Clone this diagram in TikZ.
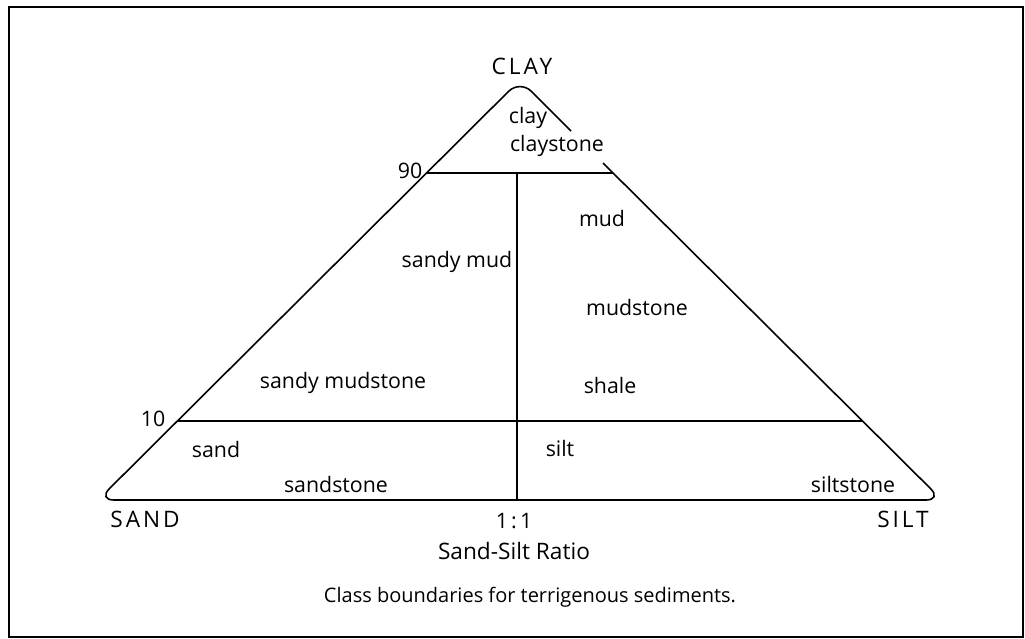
\documentclass[tikz,border=0pt]{standalone}
\usepackage{fontspec}
\setmainfont{Open Sans}
\begin{document}
\begin{tikzpicture}[x=0.75pt,y=-0.75pt,
  lbl/.style={inner sep=0pt,font=\fontsize{16}{19}\selectfont},
  capslbl/.style={inner sep=0pt,font=\fontsize{17}{20}\selectfont\addfontfeature{LetterSpace=13}},
  captext/.style={inner sep=0pt,font=\fontsize{15}{18}\selectfont},
  edgeline/.style={line width=1.2pt,line join=round},
  thinline/.style={line width=0.9pt}]
\useasboundingbox (0,0) rectangle (1025,639);
\draw[line width=1.5pt] (9,7) rectangle (1023,637);
% corners and boundary points
\coordinate (apex) at (520,80);
\coordinate (sandc) at (98,500);
\coordinate (siltc) at (942,500);
\coordinate (gapA) at (571,131);
\coordinate (gapB) at (603,163);
\draw[edgeline,rounded corners=12pt] (gapA) -- (apex) -- (sandc) -- (siltc) -- (gapB);
\coordinate (n90L) at (427,173);
\coordinate (n90R) at (613,173);
\coordinate (n10L) at (178,421);
\coordinate (n10R) at (862,421);
\coordinate (vTop) at (517,173);
\coordinate (vBot) at (517,500);
\draw[edgeline] (n90L) -- (n90R);
\draw[edgeline] (n10L) -- (n10R);
\draw[thinline] (vTop) -- (vBot);
% labels
\node[capslbl] (CLAY) at (522,66) {CLAY};
\node[lbl] (clay) at (528,118) {clay};
\node[lbl] (claystone) at (557,146) {claystone};
\node[lbl] (l90) at (410,171) {90};
\node[lbl] (mud) at (602,218) {mud};
\node[lbl] (sandymud) at (457,262) {sandy mud};
\node[lbl] (mudstone) at (637,307) {mudstone};
\node[lbl] (sandymudstone) at (343,383) {sandy mudstone};
\node[lbl] (shale) at (610,385) {shale};
\node[lbl] (l10) at (153,419) {10};
\node[lbl] (sand) at (216,449) {sand};
\node[lbl] (silt) at (560,448) {silt};
\node[lbl] (sandstone) at (336,484) {sandstone};
\node[lbl] (siltstone) at (853,484) {siltstone};
\node[capslbl] (SAND) at (145,519) {SAND};
\node[lbl,font=\fontsize{16}{19}\selectfont\addfontfeature{LetterSpace=15}] (ratio11) at (514,521) {1:1};
\node[capslbl] (SILT) at (903,519) {SILT};
\node[lbl,font=\fontsize{17}{20}\selectfont] (ratio) at (514,551) {Sand-Silt Ratio};
\node[captext] (caption) at (530,597) {Class boundaries for terrigenous sediments.};
\end{tikzpicture}
\end{document}
